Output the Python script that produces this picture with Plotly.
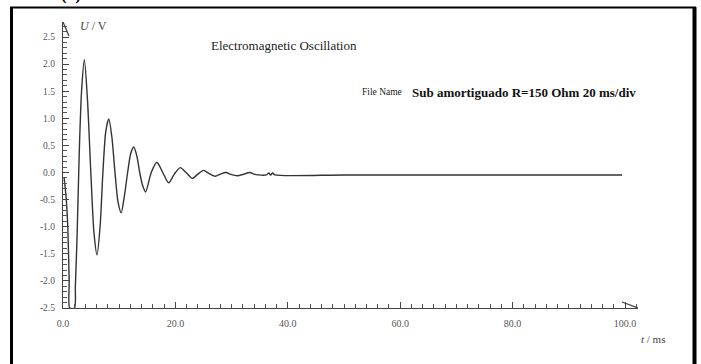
import plotly.graph_objects as go

# ---- data ----
t_ms = [0.2, 0.55, 0.85, 1.1, 1.2, 2.05, 2.2, 2.5, 2.9, 3.3, 3.8, 4.35, 4.95, 5.5, 6.05,
        6.6, 7.1, 7.6, 8.15, 8.7, 9.25, 9.8, 10.35, 10.9, 11.5, 12.05, 12.6,
        13.15, 13.65, 14.2, 14.7, 15.7, 16.7, 17.75, 18.8, 19.8, 20.85, 21.9,
        23.0, 24.0, 25.0, 26.0, 27.1, 28.0, 29.0, 30.0, 31.0, 32.2, 33.2, 34.3,
        36.2, 36.6, 36.95, 37.3, 37.7, 50.0, 70.0, 90.0, 99.5]
u_volts = [-0.1, -0.45, -1.0, -2.0, -2.5, -2.5, -2.1, -1.2, 0.4, 1.5, 2.08, 1.35, 0.0, -1.1, -1.52,
           -1.0, 0.0, 0.75, 0.99, 0.65, 0.0, -0.55, -0.74, -0.45, 0.0, 0.35, 0.47,
           0.3, 0.0, -0.25, -0.36, 0.0, 0.19, 0.0, -0.19, -0.03, 0.09, 0.0,
           -0.11, -0.03, 0.04, -0.02, -0.07, -0.03, 0.0, -0.04, -0.06, -0.03, 0.0, -0.04,
           -0.045, -0.01, -0.045, -0.01, -0.045, -0.045, -0.045, -0.045, -0.045]

y_ticks = [-2.5, -2.0, -1.5, -1.0, -0.5, 0.0, 0.5, 1.0, 1.5, 2.0, 2.5]
x_ticks = [0, 20, 40, 60, 80, 100]

W, H = 701, 364
L, R, T, B = 63, 638, 22, 308
PX_PER_V = (B - 37) / 5.0
X_MAX = (R - L) / 5.62
Y_MAX = -2.5 + (B - T) / PX_PER_V


def px(x):
    return (x - L) / (R - L)


def py(y):
    return (B - y) / (B - T)


SERIF = "Liberation Serif, Times New Roman, serif"

fig = go.Figure()
fig.add_trace(go.Scatter(
    x=t_ms, y=u_volts, mode="lines",
    line=dict(color="#333333", width=1.4, shape="spline", smoothing=0.7),
    hoverinfo="skip", showlegend=False, cliponaxis=True,
))

fig.update_layout(
    width=W, height=H,
    margin=dict(l=L, r=W - R, t=T, b=H - B, pad=0),
    paper_bgcolor="white", plot_bgcolor="white",
    font=dict(family=SERIF, color="#555555", size=9),
    xaxis=dict(
        range=[0, X_MAX], showgrid=False, zeroline=False,
        showline=True, linecolor="#444444", linewidth=1.3,
        tickmode="array", tickvals=x_ticks, ticktext=[f"{v:.1f}" for v in x_ticks],
        ticks="inside", ticklen=6, tickcolor="#444444", tickwidth=1,
        minor=dict(dtick=2, ticks="inside", ticklen=4, tickcolor="#555555", tickwidth=1),
        tickfont=dict(family=SERIF, size=10, color="#555555"),
        ticklabelstandoff=6,
    ),
    yaxis=dict(
        range=[-2.5, Y_MAX], showgrid=False, zeroline=False,
        showline=True, linecolor="#444444", linewidth=1.3,
        tickmode="array", tickvals=y_ticks, ticktext=[f"{v:.1f}" for v in y_ticks],
        ticks="inside", ticklen=6, tickcolor="#444444", tickwidth=1,
        minor=dict(dtick=0.1, ticks="inside", ticklen=4, tickcolor="#555555", tickwidth=1),
        tickfont=dict(family=SERIF, size=9.5, color="#555555"),
        ticklabelstandoff=5,
    ),
)

# axis arrowheads (open)
fig.add_shape(type="path", xref="x", yref="y", xsizemode="pixel", ysizemode="pixel",
              xanchor=0, yanchor=Y_MAX, path="M -6,-14 L 0,0 L 6,-14",
              line=dict(color="#444444", width=1.3))
fig.add_shape(type="path", xref="x", yref="y", xsizemode="pixel", ysizemode="pixel",
              xanchor=X_MAX, yanchor=-2.5, path="M -16,6 L 0,0 L -16,-6",
              line=dict(color="#444444", width=1.3))

# outer frame
fig.add_shape(type="line", xref="paper", yref="paper", x0=px(11.5), x1=px(11.5), y0=py(7), y1=py(370),
              line=dict(color="black", width=3))
fig.add_shape(type="line", xref="paper", yref="paper", x0=px(694.5), x1=px(694.5), y0=py(7), y1=py(370),
              line=dict(color="black", width=4))
fig.add_shape(type="line", xref="paper", yref="paper", x0=px(10), x1=px(696), y0=py(7.5), y1=py(7.5),
              line=dict(color="black", width=2))


def label(text, x, y, size, color="#222222", xanchor="center", yanchor="middle"):
    fig.add_annotation(text=text, xref="paper", yref="paper", x=px(x), y=py(y),
                       xanchor=xanchor, yanchor=yanchor, showarrow=False,
                       font=dict(family=SERIF, size=size, color=color))


label("<b>(a)</b>", 71, 6, 17, color="black", yanchor="bottom")
label("<i>U</i> / V", 93, 26, 12, color="#444444")
label("Electromagnetic Oscillation", 284, 45, 13)
label("File Name", 360, 92, 9.5, xanchor="left")
label("<b>Sub amortiguado R=150 Ohm 20 ms/div</b>", 410, 92, 13, color="#111111", xanchor="left")
label("<i>t</i> / ms", 653, 339, 11, color="#444444")

fig.write_html("out.html")
